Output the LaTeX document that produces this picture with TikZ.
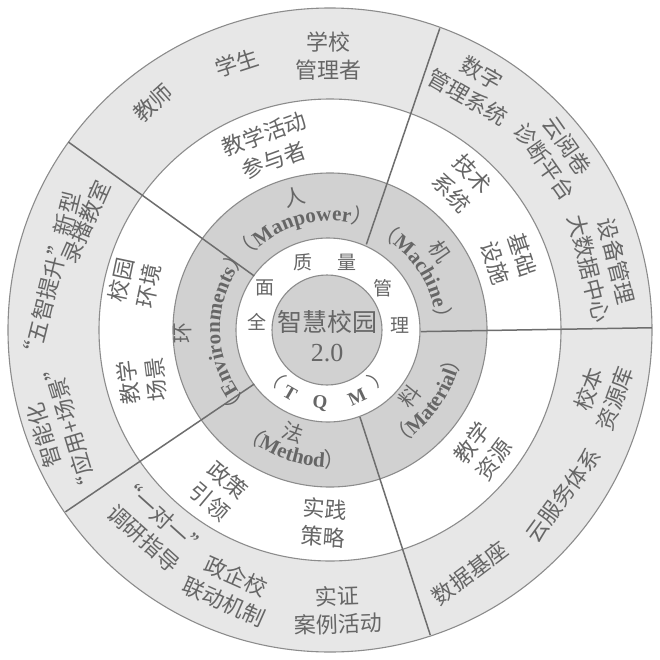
\documentclass[tikz,border=0pt]{standalone}
\usepackage{fontspec}
\setmainfont{Liberation Serif}
\newfontfamily\cjk{Noto Sans CJK SC}
\usetikzlibrary{decorations.text}

\definecolor{ringlight}{HTML}{E7E7E7}
\definecolor{ringdark}{HTML}{D1D1D1}
\definecolor{rimgray}{HTML}{8C8C8C}
\definecolor{divgray}{HTML}{6E6E6E}
\definecolor{txt}{HTML}{666666}

\newcommand\enlab{\fontsize{21}{21}\selectfont\bfseries\color{txt}}
\newcommand\cnlab{\cjk\fontsize{21}{21}\selectfont\color{txt}}

\begin{document}
\begin{tikzpicture}[x=1pt, y=1pt,
    lab/.style={font=\cjk\fontsize{22}{28}\selectfont, text=txt, align=center, inner sep=0pt},
    ringch/.style={font=\cjk\fontsize{21}{21}\selectfont, text=txt, inner sep=0pt},
    tqmch/.style={font=\cjk\fontsize{19}{19}\selectfont, text=txt, inner sep=0pt},
    tqmen/.style={font=\fontsize{19}{19}\selectfont\bfseries, text=txt, inner sep=0pt},
    rim/.style={draw=rimgray, line width=1.1pt},
    divider/.style={draw=divgray, line width=1.5pt}]

  \useasboundingbox (-330,-329) rectangle (330,330);
  \coordinate (mid) at (-3,0);

  % rings
  \fill[ringlight] (0,0) circle (322);
  \fill[white] (0,0) circle (231);
  \fill[ringdark] (0,0) circle (157);
  \fill[white] (-2,0) circle (92);
  \fill[ringdark] (mid) circle (55);
  \foreach \r in {322,231,157}
    \draw[rim] (0,0) circle (\r);
  \draw[rim] (-2,0) circle (92);
  \draw[rim] (mid) circle (55);

  % dividers
  \draw[divider] (144.5:93) -- (144.3:322);
  \draw[divider] (67:93) -- (70:321);
  \draw[divider] (-1:91) -- (0.4:322);
  \draw[divider] (-71:92) -- (-71.8:321);
  \draw[divider] (215.5:93) -- (214.5:321);

  % centre
  \node[font=\cjk\fontsize{25}{30}\selectfont, text=txt, inner sep=0pt] (core) at (-3,8) {智慧校园};
  \node[font=\fontsize{26}{30}\selectfont, text=txt, inner sep=0pt] (ver) at (-3,-23) {2.0};

  \foreach \ch/\x/\y [count=\i] in {全/-73/8, 面/-65/42, 质/-27/68, 量/17/68, 管/53/42, 理/70/5}
    \node[tqmch] (tq\i) at (\x,\y) {\ch};
  \node[tqmch, rotate=-44] (lpar) at (-55,-47) {（};
  \node[tqmen, rotate=-30] (tt) at (-40,-63) {T};
  \node[tqmen, rotate=-5] (tqq) at (-10,-73) {Q};
  \node[tqmen, rotate=25] (tm) at (27,-67) {M};
  \node[tqmch, rotate=44] (rpar) at (48,-47) {）};

  % dark ring
  \node[ringch, rotate=15] (ren) at (-35,133) {人};
  \node[ringch, rotate=-55] (ji) at (110,78) {机};
  \node[ringch, rotate=51] (liao) at (80,-66) {料};
  \node[ringch, rotate=-20] (fa) at (-37,-103) {法};
  \node[ringch, rotate=91] (huan) at (-147,-3) {环};

  \path[decorate, decoration={text along path, text align=center,
      text={|\cnlab|（|\enlab|Manpower|\cnlab|）}}]
    (160:109) arc[start angle=160, end angle=50, radius=109];
  \path[decorate, decoration={text along path, text align=center,
      text={|\cnlab|（|\enlab|Machine|\cnlab|）}}]
    (88:106) arc[start angle=88, end angle=-22, radius=106];
  \path[decorate, decoration={text along path, text align=center,
      text={|\cnlab|（|\enlab|Environments|\cnlab|）}}]
    (236:110) arc[start angle=236, end angle=126, radius=110];
  \path[decorate, decoration={text along path, text align=center,
      text={|\cnlab|（|\enlab|Material|\cnlab|）}}]
    (-90:134) arc[start angle=-90, end angle=20, radius=134];
  \path[decorate, decoration={text along path, text align=center,
      text={|\cnlab|（|\enlab|Method|\cnlab|）}}]
    (-162:137) arc[start angle=-162, end angle=-52, radius=137];

  % white ring
  \node[lab, rotate=20] (actor) at (-61,183) {教学活动\\参与者};
  \node[lab, rotate=-47] (techsys) at (132,147) {技术\\系统};
  \node[lab, rotate=-72] (infra) at (179,71) {基础\\设施};
  \node[lab, rotate=53] (teachres) at (153,-121) {教学\\资源};
  \node[lab, rotate=-4] (practice) at (-6,-193) {实践\\策略};
  \node[lab, rotate=-40] (policy) at (-111,-161) {政策\\引领};
  \node[lab, rotate=97] (scene) at (-188,-51) {教学\\场景};
  \node[lab, rotate=78] (campus) at (-195,47) {校园\\环境};

  % outer ring
  \node[lab, rotate=42] (teacher) at (-177,227) {教师};
  \node[lab, rotate=18] (student) at (-93,267) {学生};
  \node[lab] (manager) at (-2,274) {学校\\管理者};
  \node[lab, rotate=-30] (digital) at (145,245) {数字\\管理系统};
  \node[lab, rotate=-55] (cloudexam) at (226,176) {云阅卷\\诊断平台};
  \node[lab, rotate=-76] (bigdata) at (273,65) {设备管理\\大数据中心};
  \node[lab, rotate=70] (schoolres) at (272,-64) {校本\\资源库};
  \node[lab, rotate=54] (cloudsrv) at (233,-165) {云服务体系};
  \node[lab, rotate=37] (database) at (140,-243) {数据基座};
  \node[lab, rotate=2] (cases) at (8,-280) {实证\\案例活动};
  \node[lab, rotate=-24] (linkage) at (-100,-259) {政企校\\联动机制};
  \node[lab, rotate=-42] (guide) at (-177,-198) {“一对一”\\调研指导};
  \node[lab, rotate=107] (smart) at (-273,-101) {智能化\\“应用+场景”};
  \node[lab, rotate=76] (fivesmart) at (-279,52) {“五智提升”新型};
  \node[lab, rotate=66] (classroom) at (-244,108) {录播教室};
\end{tikzpicture}
\end{document}
